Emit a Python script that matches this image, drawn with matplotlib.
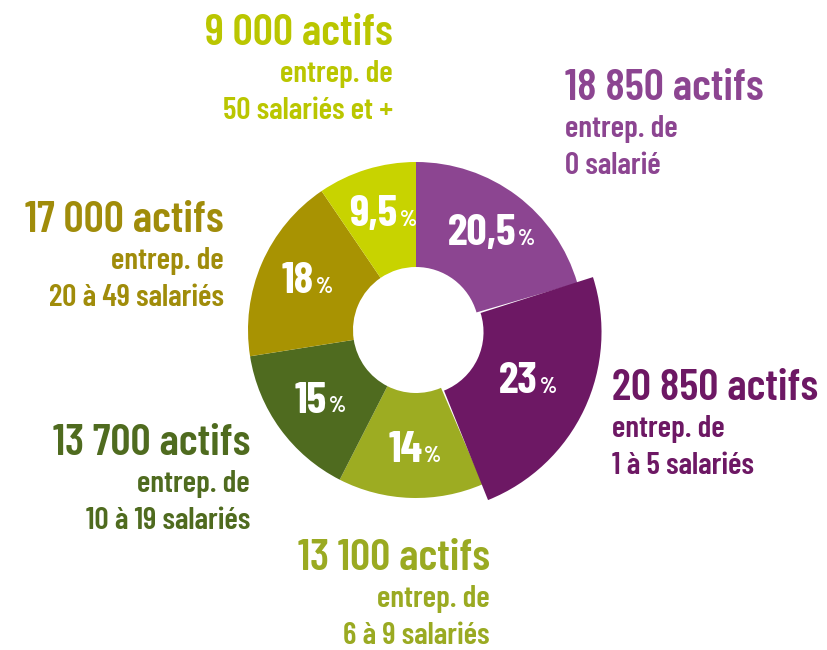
import numpy as np
import matplotlib.pyplot as plt

# parts des actifs par taille d'entreprise (sens horaire depuis midi)
shares = [20.5, 23, 14, 15, 18, 9.5]
share_labels = ['20,5', '23', '14', '15', '18', '9,5']
actifs = ['18\u2009850', '20\u2009850', '13\u2009100', '13\u2009700', '17\u2009000', '9\u2009000']
tailles = ['0 salarié', '1 à 5 salariés', '6 à 9 salariés',
           '10 à 19 salariés', '20 à 49 salariés', '50 salariés et +']

colors = ['#8c4591', '#6d1864', '#9dac22', '#4f6b1f', '#a89302', '#c8d300']
text_colors = ['#8c4591', '#6d1864', '#9aaa22', '#4f6b1f', '#a08c0a', '#bac600']

FONT = ['Barlow Condensed', 'Liberation Sans', 'DejaVu Sans']
W, H = 828, 650


def Y(y):
    # coordonnees image (y vers le bas) -> coordonnees axe
    return H - y


fig = plt.figure(figsize=(W / 100, H / 100), dpi=100)
ax = fig.add_axes([0, 0, 1, 1])

cx, cy = 416, Y(330)
R, r_in = 168, 63

wedges, _ = ax.pie(shares, colors=colors, startangle=90, counterclock=False,
                   radius=R, center=(cx, cy),
                   wedgeprops=dict(width=R - r_in, edgecolor='none', linewidth=0))

# pie() fixe ses propres limites: on les remet en pixels apres
ax.set_xlim(0, W)
ax.set_ylim(0, H)
ax.set_aspect('equal')
ax.axis('off')

# la part "1 a 5 salaries" est mise en avant (plus grande, un peu decalee)
w = wedges[1]
mid = np.radians((w.theta1 + w.theta2) / 2)
off = 5
w.set_center((cx + off * np.cos(mid), cy + off * np.sin(mid)))
w.set_theta1(w.theta1 - 1.5)
w.set_theta2(w.theta2 + 1.5)
w.set_radius(181)
w.set_width(181 - r_in)
w.set_zorder(3)

# pourcentages dans l'anneau
for w, lab in zip(wedges, share_labels):
    mid = np.radians((w.theta1 + w.theta2) / 2)
    d = 121
    x = cx + d * np.cos(mid) - 7
    y = cy + d * np.sin(mid)
    t = ax.text(x, y, lab, color='white', fontsize=32, fontweight='bold',
                family=FONT, ha='center', va='center', zorder=4)
    ax.annotate('%', xy=(1, 0), xycoords=t, xytext=(1.5, 3),
                textcoords='offset points', color='white', fontsize=16,
                fontweight='bold', family=FONT, ha='left', va='bottom',
                zorder=4)

# etiquettes exterieures: (x, ligne de base du titre, alignement)
anchors = [(565, 100, 'left'), (612, 400, 'left'), (490, 570, 'right'),
           (250, 455, 'right'), (224, 232, 'right'), (393, 45, 'right')]

for (x, yb, ha), a, tl, c in zip(anchors, actifs, tailles, text_colors):
    ax.text(x, Y(yb), a + ' actifs', color=c, fontsize=32, fontweight='semibold',
            family=FONT, ha=ha, va='baseline')
    ax.text(x, Y(yb + 37), 'entrep. de', color=c, fontsize=22.5,
            fontweight='semibold', family=FONT, ha=ha, va='baseline')
    ax.text(x, Y(yb + 74), tl, color=c, fontsize=22.5,
            fontweight='semibold', family=FONT, ha=ha, va='baseline')

fig.savefig('out.png', dpi=100)
